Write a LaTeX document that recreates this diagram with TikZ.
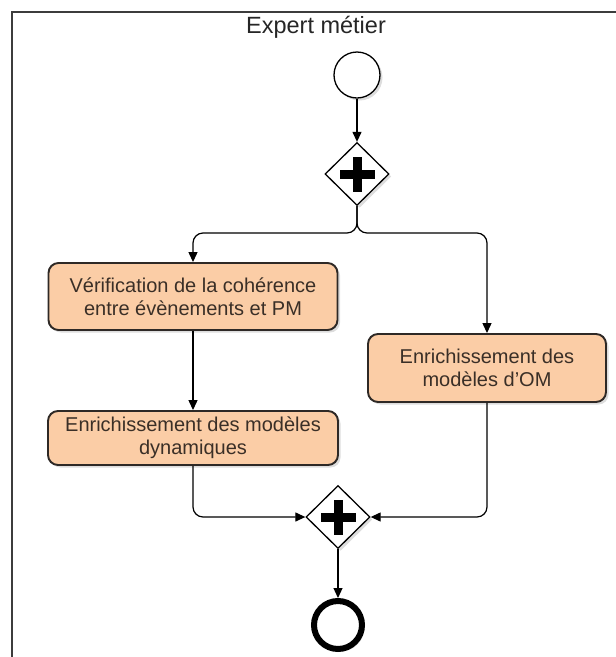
\documentclass[tikz,border=0pt]{standalone}
\usepackage{fontspec}
\setmainfont{Liberation Sans}
\usepackage{xcolor}
\usepackage{tikz}
\usetikzlibrary{arrows.meta,positioning,shapes.geometric,shadows}
\definecolor{TaskFill}{HTML}{FBCDA6}
\definecolor{TaskEdge}{HTML}{2E2926}
\definecolor{TaskText}{HTML}{3A2F27}
\definecolor{LaneGrey}{HTML}{3C3C3C}
\tikzset{
  shade/.style   = {drop shadow={shadow xshift=2.5pt, shadow yshift=-2.5pt,
                    opacity=0.22, fill=black!60}},
  task/.style    = {draw=TaskEdge, fill=TaskFill, line width=1.9pt, rounded corners=10pt,
                    align=center, text=TaskText, inner sep=4pt,
                    font=\fontsize{20}{23}\selectfont, shade},
  gate/.style    = {shape=diamond, draw=black, line width=1.3pt, fill=white,
                    minimum width=64pt, minimum height=63pt, inner sep=0pt, shade,
                    path picture={
                      \fill[black] ([xshift=-17.5pt,yshift=-4.5pt]path picture bounding box.center)
                        rectangle ([xshift=17.5pt,yshift=4.5pt]path picture bounding box.center);
                      \fill[black] ([xshift=-4.5pt,yshift=-17.5pt]path picture bounding box.center)
                        rectangle ([xshift=4.5pt,yshift=17.5pt]path picture bounding box.center);}},
  startev/.style = {circle, draw=black, line width=1.3pt, fill=white, minimum size=46pt,
                    inner sep=0pt, shade},
  endev/.style   = {circle, draw=black, line width=6pt, fill=white, minimum size=48pt,
                    inner sep=0pt, shade},
  flow/.style    = {-{Triangle[length=10pt,width=9pt]}, draw=black, line width=1.2pt,
                    rounded corners=10pt},
  lane/.style    = {draw=LaneGrey, line width=1.6pt},
}
\begin{document}
\begin{tikzpicture}[x=1pt, y=-1pt]
  \useasboundingbox (0,0) rectangle (616,657);

  \draw[lane] (616,12) -- (12,12) -- (12,657);
  \node[font=\fontsize{23.5}{26}\selectfont, text=black!85] (title) at (316,27) {Expert métier};

  \node[startev] (start) at (357,75) {};
  \node[gate] (fork) at (357,174) {};

  \node[task, minimum width=289pt, minimum height=67pt] (verif) at (193,296.5)
    {Vérification de la cohérence\\entre évènements et PM};
  \node[task, minimum width=238pt, minimum height=68pt] (om) at (487,368)
    {Enrichissement des\\modèles d’OM};
  \node[task, minimum width=290pt, minimum height=54pt] (dyn) at (193,438)
    {Enrichissement des modèles\\dynamiques};

  \node[gate] (join) at (338,517) {};
  \node[endev] (end) at (338,625) {};

  \coordinate (split) at (357,233);

  \draw[flow] (start) -- (fork);
  \draw[flow] (fork.south) -- (split) -| (verif.north);
  \draw[flow] (fork.south) -- (split) -| (om.north);
  \draw[flow] (verif) -- (dyn);
  \draw[flow] (dyn.south) |- (join.west);
  \draw[flow] (om.south) |- (join.east);
  \draw[flow] (join) -- (end);

\end{tikzpicture}
\end{document}
